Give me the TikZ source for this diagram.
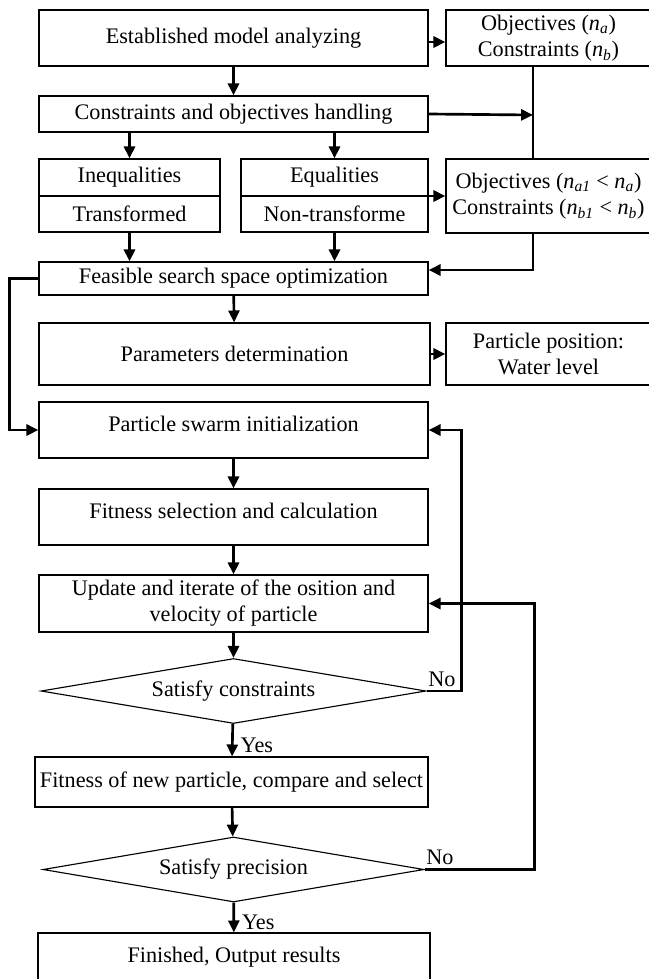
\documentclass[tikz,border=0pt]{standalone}
\usepackage{fontspec}
\setmainfont{Liberation Serif}
\usetikzlibrary{%
  arrows.meta,%
  shapes.geometric,% wg. diamond
  positioning%
}

\newcommand{\nn}[1]{\textit{n}\textsubscript{\textit{#1}}}

\begin{document}
\begin{tikzpicture}[
  x=0.025cm, y=-0.025cm,
  font=\fontsize{15.8pt}{18.5pt}\selectfont,
  >={Triangle[length=8.5pt,width=7.8pt]},
  box/.style 2 args={draw, line width=0.8pt, align=center, inner sep=0pt,
    minimum width=#1*0.025cm, minimum height=#2*0.025cm},
  raised/.style={text height=0.75em, text depth=0.6em},
  test/.style={draw, diamond, aspect=6, line width=0.8pt, inner sep=0pt,
    minimum width=#1*0.025cm, minimum height=65*0.025cm},
  flow/.style={->, line width=1.9pt},
  link/.style={line width=1.9pt},
  lbl/.style={inner sep=1pt},
]
\useasboundingbox (0,0) rectangle (649,979);
\clip (0,0) rectangle (649,979);

% top part
\node[box={389}{56}] (est) at (233.5,38) {Established model analyzing};
\node[box={205}{56}] (obj) at (548.5,38) {Objectives (\nn{a})\\Constraints (\nn{b})};
\node[box={389}{36}] (hand) at (233.5,114) {Constraints and objectives handling};

\node[box={181}{37}] (ineq) at (129.5,177.5) {Inequalities};
\node[box={181}{36}] (trans) at (129.5,214) {Transformed};
\node[box={187}{37}] (eq) at (334.5,177.5) {Equalities};
\node[box={187}{36}] (nontr) at (334.5,214) {Non-transforme};
\node[box={205}{74}] (obj2) at (548.5,196)
  {Objectives (\nn{a1} < \nn{a})\\Constraints (\nn{b1} < \nn{b})};

\node[box={389}{33}] (feas) at (233.5,278.5) {Feasible search space optimization};
\node[box={391}{62}] (par) at (234.5,354) {Parameters determination};
\node[box={205}{62}] (pos) at (548.5,354) {Particle position:\\Water level};

% swarm loop
\node[box={389}{56},raised] (swarm) at (233.5,430) {Particle swarm initialization};
\node[box={389}{56},raised] (fsel) at (233.5,517) {Fitness selection and calculation};
\node[box={389}{57}] (upd) at (233.5,603.5)
  {Update and iterate of the osition and\\velocity of particle};
\node[test=385] (dia1) at (233.5,691) {Satisfy constraints};
\node[box={393}{50}] (fnew) at (231.5,782) {Fitness of new particle, compare and select};
\node[test=381] (dia2) at (233.5,869.5) {Satisfy precision};
\node[box={392}{57},raised] (fin) at (234,961.5) {Finished, Output results};

\coordinate (vl) at (533,115);
\coordinate (fr) at (533,270);

\draw[flow] (est.east |- 0,42) -- (obj.west |- 0,42);
\draw[flow] (est) -- (hand);
\draw[flow] (hand.east) -- (vl);
\draw[link] (obj.south -| vl) -- (obj2.north -| vl);
\draw[flow] (hand.south -| ineq) -- (ineq);
\draw[flow] (hand.south -| eq) -- (eq);
\draw[flow] (obj2.west -| nontr.east) -- (obj2.west);
\draw[flow] (trans) -- (trans |- feas.north);
\draw[flow] (nontr) -- (nontr |- feas.north);
\draw[flow] (obj2.south -| fr) -- (fr) -- (fr -| feas.east);

\draw[flow] (feas) -- (par);
\draw[flow] (par) -- (pos);
\draw[flow] (feas.west) -- ++(-29,0) |- (swarm.west);

\draw[flow] (swarm) -- (fsel);
\draw[flow] (fsel) -- (upd);
\draw[flow] (upd) -- (dia1);
\draw[flow] (dia1) -- node[lbl,right,pos=0.65,xshift=4pt] {Yes} (fnew);
\draw[flow] (fnew) -- (dia2);
\draw[flow] (dia2) -- node[lbl,right,pos=0.65,xshift=4pt] {Yes} (fin);

\draw[flow] (dia1.east) -- ++(35,0) |- (swarm.east);
\node[lbl,above right,yshift=2pt] (no1) at (dia1.east) {No};
\draw[flow] (dia2.east) -- ++(110,0) |- (upd.east);
\node[lbl,above right,yshift=2pt] (no2) at (dia2.east) {No};

\end{tikzpicture}
\end{document}
